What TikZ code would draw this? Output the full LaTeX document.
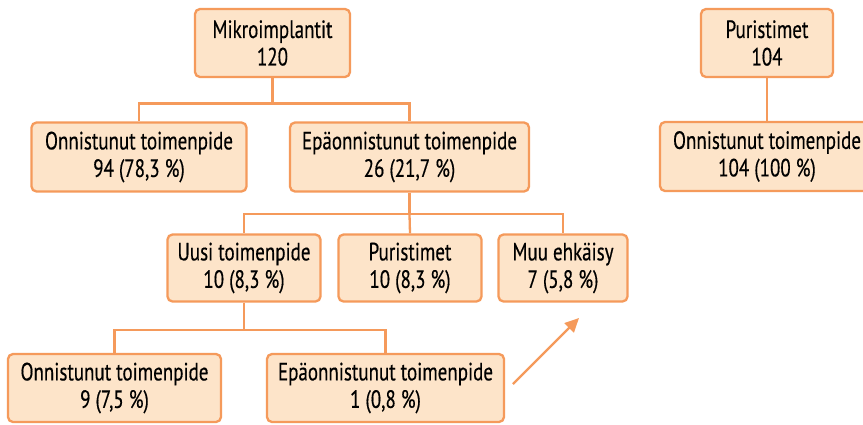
\documentclass[tikz,border=0pt]{standalone}
\usepackage{fontspec}
\setmainfont[FakeStretch=0.76,FakeBold=0.4]{PT Sans}
\usetikzlibrary{arrows.meta}
\definecolor{boxfill}{HTML}{FDE4C9}
\definecolor{boxline}{HTML}{F59A5B}
\begin{document}
\begin{tikzpicture}[x=1pt,y=-1pt,
  box/.style={draw=boxline, fill=boxfill, line width=2.3pt, rounded corners=5pt,
    inner sep=0pt, align=center, font=\fontsize{25}{27.5}\selectfont},
  conn/.style={draw=boxline, line width=2.3pt}]
\useasboundingbox (0,0) rectangle (863,424);
\clip (0,0) rectangle (863,424);
\fill[white] (0,0) rectangle (863,424);
% level 1
\node[box, minimum width=155pt, minimum height=68pt] (A) at (272.5,43) {Mikroimplantit\\120};
\node[box, minimum width=132pt, minimum height=68pt] (P) at (767,43) {Puristimet\\104};
% level 2
\node[box, minimum width=215pt, minimum height=69pt] (B) at (139,157) {Onnistunut toimenpide\\94 (78,3~\%)};
\node[box, minimum width=239pt, minimum height=69pt] (C) at (409.5,157) {Epäonnistunut toimenpide\\26 (21,7~\%)};
\node[box, minimum width=214pt, minimum height=69pt] (Q) at (767,156.5) {Onnistunut toimenpide\\104 (100~\%)};
% level 3
\node[box, minimum width=153pt, minimum height=67pt] (D) at (244,268) {Uusi toimenpide\\10 (8,3~\%)};
\node[box, minimum width=143pt, minimum height=67pt] (E) at (410,268) {Puristimet\\10 (8,3~\%)};
\node[box, minimum width=129pt, minimum height=67pt] (F) at (563,268) {Muu ehkäisy\\7 (5,8~\%)};
% level 4
\node[box, minimum width=213pt, minimum height=68pt] (G) at (114.5,388) {Onnistunut toimenpide\\9 (7,5~\%)};
\node[box, minimum width=237pt, minimum height=68pt] (H) at (385.5,388) {Epäonnistunut toimenpide\\1 (0,8~\%)};
% connectors
\draw[conn] (A.south) -- ++(0,25.3) coordinate (a1);
\draw[conn] (a1) -| (B.north);
\draw[conn] (a1) -| (C.north);
\draw[conn] (P.south) -- (Q.north);
\draw[conn] (C.south) -- ++(0,21.5) coordinate (c1);
\draw[conn] (c1) -| (D.north);
\draw[conn] (c1) -- (E.north);
\draw[conn] (c1) -| (F.north);
\draw[conn] (D.south) -- ++(0,27.5) coordinate (d1);
\draw[conn] (d1) -| (G.north);
\draw[conn] (d1) -| (H.north);
% arrow
\coordinate (s) at (513,384);
\coordinate (t) at (579,318);
\draw[conn, -{Triangle[length=14pt,width=13pt]}] (s) -- (t);
\end{tikzpicture}
\end{document}
